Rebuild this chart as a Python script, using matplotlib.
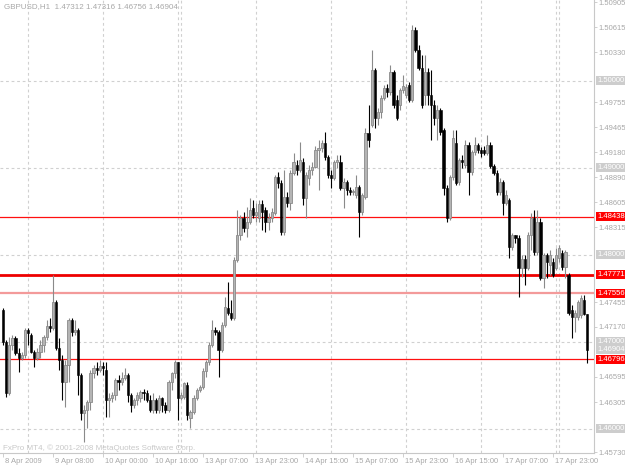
import matplotlib
matplotlib.use("Agg")
import matplotlib.pyplot as plt
import matplotlib.transforms as mtransforms

symbol_title = "GBPUSD,H1  1.47312 1.47316 1.46756 1.46904"
copyright_text = "FxPro MT4, \u00a9 2001-2008 MetaQuotes Software Corp."

opens = [1.4736, 1.4699, 1.4641, 1.4696, 1.4704, 1.4687, 1.4681, 1.4684, 1.4713, 1.4708,
         1.4688, 1.4681, 1.4688, 1.4696, 1.4705, 1.4718, 1.4716, 1.4746, 1.4693, 1.4679,
         1.4653, 1.4673, 1.4725, 1.4711, 1.4713, 1.4662, 1.4618, 1.4621, 1.4630, 1.4664,
         1.4670, 1.4667, 1.4672, 1.4667, 1.4633, 1.4635, 1.4639, 1.4656, 1.4654, 1.4658,
         1.4662, 1.4639, 1.4627, 1.4633, 1.4635, 1.4642, 1.4641, 1.4633, 1.4621, 1.4633,
         1.4621, 1.4635, 1.4627, 1.4621, 1.4653, 1.4664, 1.4676, 1.4635, 1.4636, 1.4650,
         1.4612, 1.4619, 1.4635, 1.4644, 1.4648, 1.4666, 1.4677, 1.4696, 1.4713, 1.4711,
         1.4690, 1.4719, 1.4739, 1.4733, 1.4727, 1.4794, 1.4823, 1.4842, 1.4831, 1.4837,
         1.4854, 1.4845, 1.4842, 1.4858, 1.4851, 1.4837, 1.4842, 1.4848, 1.4889, 1.4882,
         1.4826, 1.4866, 1.4859, 1.4894, 1.4903, 1.4897, 1.4907, 1.4865, 1.4888, 1.4897,
         1.4901, 1.4920, 1.4923, 1.4928, 1.4912, 1.4892, 1.4888, 1.4907, 1.4906, 1.4877,
         1.4884, 1.4874, 1.4872, 1.4869, 1.4878, 1.4849, 1.4866, 1.4940, 1.4949, 1.5012,
         1.4957, 1.4964, 1.4980, 1.4992, 1.4987, 1.5010, 1.4978, 1.4972, 1.4989, 1.4984,
         1.4995, 1.4978, 1.5058, 1.5035, 1.5015, 1.4984, 1.5010, 1.4984, 1.4972, 1.4957,
         1.4966, 1.4943, 1.4877, 1.4842, 1.4889, 1.4928, 1.4884, 1.4909, 1.4903, 1.4926,
         1.4895, 1.4918, 1.4926, 1.4920, 1.4920, 1.4917, 1.4926, 1.4902, 1.4894, 1.4872,
         1.4884, 1.4859, 1.4863, 1.4809, 1.4822, 1.4819, 1.4785, 1.4795, 1.4785, 1.4823,
         1.4842, 1.4803, 1.4837, 1.4773, 1.4799, 1.4788, 1.4791, 1.4785, 1.4796, 1.4802,
         1.4786, 1.4777, 1.4736, 1.4728, 1.4728, 1.4731, 1.4748, 1.47312]
highs = [1.4739, 1.4702, 1.4705, 1.4708, 1.4706, 1.4693, 1.4688, 1.4716, 1.4716, 1.4710,
         1.4690, 1.4693, 1.4702, 1.4708, 1.4725, 1.4727, 1.4776, 1.4748, 1.4704, 1.4685,
         1.4679, 1.4727, 1.4727, 1.4725, 1.4716, 1.4664, 1.4627, 1.4633, 1.4667, 1.4673,
         1.4677, 1.4679, 1.4677, 1.4677, 1.4641, 1.4642, 1.4658, 1.4662, 1.4665, 1.4670,
         1.4664, 1.4641, 1.4635, 1.4642, 1.4644, 1.4646, 1.4644, 1.4638, 1.4641, 1.4635,
         1.4639, 1.4636, 1.4631, 1.4656, 1.4665, 1.4679, 1.4677, 1.4642, 1.4654, 1.4653,
         1.4621, 1.4638, 1.4647, 1.4650, 1.4670, 1.4679, 1.4699, 1.4725, 1.4717, 1.4713,
         1.4722, 1.4751, 1.4768, 1.4748, 1.4797, 1.4851, 1.4845, 1.4849, 1.4855, 1.4865,
         1.4863, 1.4859, 1.4863, 1.4863, 1.4855, 1.4848, 1.4854, 1.4892, 1.4895, 1.4886,
         1.4897, 1.4872, 1.4897, 1.4917, 1.4909, 1.4930, 1.4911, 1.4895, 1.4903, 1.4906,
         1.4925, 1.4932, 1.4932, 1.4941, 1.4915, 1.4897, 1.4909, 1.4915, 1.4915, 1.4888,
         1.4886, 1.4878, 1.4875, 1.4892, 1.4880, 1.4871, 1.4946, 1.4972, 1.5035, 1.5015,
         1.4969, 1.4984, 1.4995, 1.4996, 1.5018, 1.5012, 1.4984, 1.4992, 1.5007, 1.4996,
         1.4999, 1.5064, 1.5062, 1.5041, 1.5030, 1.5030, 1.5015, 1.5012, 1.4978, 1.4972,
         1.4969, 1.4946, 1.4880, 1.4892, 1.4943, 1.4943, 1.4911, 1.4915, 1.4932, 1.4930,
         1.4920, 1.4935, 1.4928, 1.4924, 1.4925, 1.4938, 1.4930, 1.4904, 1.4897, 1.4888,
         1.4886, 1.4874, 1.4865, 1.4825, 1.4823, 1.4822, 1.4799, 1.4799, 1.4826, 1.4848,
         1.4851, 1.4851, 1.4842, 1.4802, 1.4802, 1.4805, 1.4796, 1.4808, 1.4811, 1.4805,
         1.4805, 1.4779, 1.4742, 1.4736, 1.4748, 1.4754, 1.4753, 1.47316]
lows = [1.4696, 1.4636, 1.4638, 1.4690, 1.4684, 1.4665, 1.4679, 1.4681, 1.4696, 1.4687,
        1.4671, 1.4679, 1.4681, 1.4688, 1.4702, 1.4711, 1.4713, 1.4690, 1.4667, 1.4633,
        1.4625, 1.4653, 1.4706, 1.4708, 1.4639, 1.4610, 1.4584, 1.4601, 1.4621, 1.4658,
        1.4662, 1.4665, 1.4662, 1.4613, 1.4613, 1.4630, 1.4633, 1.4644, 1.4650, 1.4656,
        1.4630, 1.4619, 1.4624, 1.4627, 1.4631, 1.4633, 1.4631, 1.4619, 1.4618, 1.4618,
        1.4618, 1.4619, 1.4618, 1.4619, 1.4644, 1.4658, 1.4610, 1.4633, 1.4634, 1.4610,
        1.4601, 1.4617, 1.4633, 1.4642, 1.4646, 1.4659, 1.4673, 1.4694, 1.4708, 1.4659,
        1.4688, 1.4717, 1.4730, 1.4725, 1.4725, 1.4792, 1.4817, 1.4826, 1.4820, 1.4835,
        1.4842, 1.4837, 1.4837, 1.4828, 1.4826, 1.4828, 1.4837, 1.4845, 1.4877, 1.4823,
        1.4823, 1.4855, 1.4851, 1.4891, 1.4892, 1.4895, 1.4857, 1.4842, 1.4880, 1.4892,
        1.4900, 1.4874, 1.4918, 1.4909, 1.4888, 1.4877, 1.4886, 1.4900, 1.4874, 1.4854,
        1.4869, 1.4868, 1.4869, 1.4865, 1.4820, 1.4845, 1.4864, 1.4924, 1.4947, 1.4946,
        1.4949, 1.4957, 1.4978, 1.4981, 1.4984, 1.4969, 1.4955, 1.4966, 1.4986, 1.4980,
        1.4976, 1.4976, 1.5033, 1.5012, 1.4969, 1.4972, 1.4972, 1.4932, 1.4949, 1.4932,
        1.4938, 1.4869, 1.4837, 1.4840, 1.4886, 1.4880, 1.4880, 1.4900, 1.4900, 1.4869,
        1.4892, 1.4915, 1.4917, 1.4912, 1.4914, 1.4915, 1.4900, 1.4891, 1.4869, 1.4869,
        1.4845, 1.4857, 1.4796, 1.4805, 1.4813, 1.4751, 1.4774, 1.4765, 1.4782, 1.4805,
        1.4800, 1.4800, 1.4771, 1.4762, 1.4773, 1.4777, 1.4774, 1.4782, 1.4792, 1.4782,
        1.4773, 1.4731, 1.4704, 1.4711, 1.4725, 1.4727, 1.4730, 1.46756]
closes = [1.4699, 1.4641, 1.4696, 1.4704, 1.4687, 1.4681, 1.4684, 1.4713, 1.4710, 1.4688,
          1.4681, 1.4688, 1.4696, 1.4705, 1.4718, 1.4716, 1.4746, 1.4693, 1.4679, 1.4653,
          1.4673, 1.4725, 1.4711, 1.4713, 1.4662, 1.4618, 1.4621, 1.4630, 1.4664, 1.4670,
          1.4667, 1.4672, 1.4670, 1.4633, 1.4635, 1.4639, 1.4656, 1.4654, 1.4658, 1.4662,
          1.4639, 1.4627, 1.4633, 1.4639, 1.4642, 1.4641, 1.4633, 1.4621, 1.4633, 1.4621,
          1.4635, 1.4627, 1.4621, 1.4653, 1.4664, 1.4676, 1.4635, 1.4639, 1.4652, 1.4615,
          1.4619, 1.4635, 1.4644, 1.4648, 1.4666, 1.4677, 1.4696, 1.4713, 1.4711, 1.4690,
          1.4719, 1.4740, 1.4733, 1.4727, 1.4794, 1.4823, 1.4842, 1.4831, 1.4837, 1.4851,
          1.4845, 1.4849, 1.4858, 1.4849, 1.4837, 1.4842, 1.4849, 1.4889, 1.4882, 1.4826,
          1.4866, 1.4859, 1.4894, 1.4906, 1.4897, 1.4909, 1.4865, 1.4892, 1.4897, 1.4901,
          1.4920, 1.4923, 1.4928, 1.4912, 1.4892, 1.4888, 1.4907, 1.4909, 1.4877, 1.4884,
          1.4874, 1.4872, 1.4873, 1.4878, 1.4849, 1.4869, 1.4940, 1.4932, 1.5012, 1.4957,
          1.4964, 1.4980, 1.4992, 1.4987, 1.5010, 1.4972, 1.4957, 1.4989, 1.4994, 1.4993,
          1.4978, 1.5058, 1.5035, 1.5015, 1.4972, 1.5010, 1.4984, 1.4972, 1.4957, 1.4966,
          1.4941, 1.4877, 1.4842, 1.4889, 1.4934, 1.4882, 1.4909, 1.4906, 1.4926, 1.4895,
          1.4918, 1.4926, 1.4920, 1.4917, 1.4917, 1.4926, 1.4902, 1.4894, 1.4872, 1.4884,
          1.4859, 1.4869, 1.4809, 1.4822, 1.4819, 1.4785, 1.4795, 1.4785, 1.4823, 1.4842,
          1.4803, 1.4837, 1.4773, 1.4799, 1.4792, 1.4800, 1.4777, 1.4800, 1.4808, 1.4786,
          1.4803, 1.4733, 1.4728, 1.4733, 1.4746, 1.4750, 1.4732, 1.46904]

level_prices = [1.48438, 1.47771, 1.47556, 1.46796]
level_colors = ["#ff1010", "#ee0000", "#f39a9a", "#ff1010"]
level_widths = [0.9, 2.0, 1.6, 0.9]

grid_prices = [1.50000, 1.49000, 1.48000, 1.47000, 1.46000]
grid_labels = ["1.50000", "1.49000", "1.48000", "1.47000", "1.46000"]
bid_price = 1.46904

price_ticks = [1.50905, 1.50615, 1.50330, 1.49755, 1.49465, 1.49180, 1.48890,
               1.48605, 1.48315, 1.47455, 1.47170, 1.46595, 1.46305, 1.45730]

time_label_bars = [0, 16, 32, 48, 64, 80, 96, 112, 128, 144, 160, 176]
time_labels = ["8 Apr 2009", "9 Apr 08:00", "10 Apr 00:00", "10 Apr 16:00", "13 Apr 07:00",
               "13 Apr 23:00", "14 Apr 15:00", "15 Apr 07:00", "15 Apr 23:00", "16 Apr 15:00",
               "17 Apr 07:00", "17 Apr 23:00"]
day_grid_bars = [8, 32, 56, 57, 81, 105, 129, 153, 177, 178]

FONT = ["Liberation Sans", "DejaVu Sans"]
TXT = "#a8a8a8"
GRID = "#d0d0d0"

W, H = 625, 469
fig = plt.figure(figsize=(W / 100, H / 100), dpi=100)
fig.patch.set_facecolor("white")
ax_right, ax_bottom = 594, 453
ax = fig.add_axes([0, 1 - ax_bottom / H, ax_right / W, ax_bottom / H])
ax.set_facecolor("white")

n = len(closes)
ax.set_xlim(-0.96, -0.96 + ax_right / 3.125)
ax.set_ylim(1.50928 - 0.000115 * ax_bottom, 1.50928)

for p in grid_prices:
    ax.axhline(p, color=GRID, lw=0.8, ls=(0, (2.5, 2.5)), zorder=0)
for b in day_grid_bars:
    ax.axvline(b, color=GRID, lw=0.8, ls=(0, (2.5, 2.5)), zorder=0)

for p, c, w in zip(level_prices, level_colors, level_widths):
    ax.axhline(p, color=c, lw=w, zorder=1)

body_w = 0.72
for i in range(n):
    o, h, l, c = opens[i], highs[i], lows[i], closes[i]
    bull = c >= o
    wick_col = "#8a8a8a" if bull else "#000000"
    ax.vlines(i, l, h, color=wick_col, lw=0.8, zorder=2)
    lo, hi = min(o, c), max(o, c)
    if hi - lo < 0.00005:
        ax.hlines(o, i - body_w / 2, i + body_w / 2, color=wick_col, lw=0.8, zorder=3)
    elif bull:
        ax.bar(i, hi - lo, bottom=lo, width=body_w, facecolor="#b4b4b4",
               edgecolor="#8a8a8a", lw=0.6, zorder=3)
    else:
        ax.bar(i, hi - lo, bottom=lo, width=body_w, facecolor="#000000",
               edgecolor="#000000", lw=0.4, zorder=3)

for s in ["top", "left"]:
    ax.spines[s].set_visible(False)
for s in ["right", "bottom"]:
    ax.spines[s].set_color("#c8c8c8")
    ax.spines[s].set_linewidth(0.8)

ax.yaxis.tick_right()
ax.set_yticks(price_ticks)
ax.set_yticklabels([f"{p:.5f}" for p in price_ticks])
ax.tick_params(axis="y", length=2.2, width=0.6, color="#c8c8c8", pad=0.8,
               labelsize=5.5, labelcolor=TXT)
for t in ax.get_yticklabels():
    t.set_fontfamily(FONT)

ax.set_xticks(time_label_bars)
ax.set_xticklabels([""] * len(time_label_bars))
ax.tick_params(axis="x", length=3, width=0.6, color="#c8c8c8")
trans = mtransforms.blended_transform_factory(ax.transData, fig.transFigure)
for b, lab in zip(time_label_bars, time_labels):
    ax.text(b + 0.6, 1 - 461 / H, lab, transform=trans, ha="left", va="center",
            fontsize=5.5, color=TXT, family=FONT, clip_on=False)

ytrans = mtransforms.blended_transform_factory(fig.transFigure, ax.transData)
def box(price, label, fc):
    ax.text(597 / W, price, label, transform=ytrans, ha="left", va="center",
            fontsize=5.5, color="white", family=FONT, clip_on=False, zorder=10,
            bbox=dict(boxstyle="square,pad=0.12", fc=fc, ec="none"))

for p, lab in zip(grid_prices, grid_labels):
    box(p, lab, "#cdcdcd")
box(bid_price, f"{bid_price:.5f}", "#cdcdcd")
for p in level_prices:
    box(p, f"{p:.5f}", "#ff0000")

fig.text(4 / W, 1 - 7 / H, symbol_title, ha="left", va="center", fontsize=5.8,
         color=TXT, family=FONT)
fig.text(3 / W, 1 - 448 / H, copyright_text, ha="left", va="center", fontsize=5.8,
         color="#c8c8c8", family=FONT)

fig.savefig("out.png", dpi=100)
